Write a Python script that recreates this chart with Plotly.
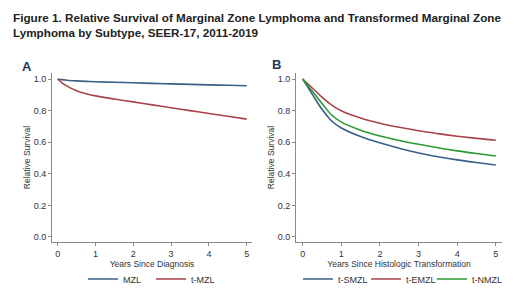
import plotly.graph_objects as go

# Panel A data
years_a = [0, 0.1, 0.25, 0.5, 0.75, 1, 1.5, 2, 2.5, 3, 3.5, 4, 4.5, 5]
mzl = [1.0, 0.996, 0.992, 0.988, 0.985, 0.983, 0.979, 0.976, 0.972, 0.969, 0.966, 0.963, 0.960, 0.957]
t_mzl = [1.0, 0.979, 0.955, 0.925, 0.906, 0.893, 0.873, 0.855, 0.836, 0.818, 0.800, 0.782, 0.764, 0.746]

# Panel B data
years_b = [0, 0.25, 0.5, 0.75, 1, 1.5, 2, 2.5, 3, 3.5, 4, 4.5, 5]
t_smzl = [1.0, 0.903, 0.808, 0.734, 0.690, 0.636, 0.596, 0.562, 0.532, 0.508, 0.488, 0.471, 0.456]
t_emzl = [1.0, 0.943, 0.885, 0.835, 0.799, 0.753, 0.720, 0.694, 0.672, 0.654, 0.638, 0.624, 0.612]
t_nmzl = [1.0, 0.923, 0.845, 0.772, 0.727, 0.676, 0.639, 0.611, 0.587, 0.565, 0.545, 0.528, 0.513]

y_ticks = [0.0, 0.2, 0.4, 0.6, 0.8, 1.0]
y_ticklabels = ["0.0", "0.2", "0.4", "0.6", "0.8", "1.0"]
x_ticks = [0, 1, 2, 3, 4, 5]

BLUE = "#3b5f88"
RED = "#a8434c"
GREEN = "#2a9a30"
FONT = "Liberation Sans, Arial, sans-serif"

W, H = 520, 298
def px_x(p): return p / W
def px_y(p): return 1 - p / H

fig = go.Figure()
series = [
    (years_a, mzl, "MZL", BLUE, "x", "y", "legend"),
    (years_a, t_mzl, "t-MZL", RED, "x", "y", "legend2"),
    (years_b, t_smzl, "t-SMZL", BLUE, "x2", "y2", "legend3"),
    (years_b, t_emzl, "t-EMZL", RED, "x2", "y2", "legend4"),
    (years_b, t_nmzl, "t-NMZL", GREEN, "x2", "y2", "legend5"),
]
for xs, ys, name, color, xa, ya, lg in series:
    fig.add_trace(go.Scatter(x=xs, y=ys, mode="lines", name=name, showlegend=True,
                             line=dict(color=color, width=1.6, shape="spline"),
                             xaxis=xa, yaxis=ya, legend=lg))

axis_common = dict(showline=True, linecolor="#8a8a8a", linewidth=1, ticks="outside", ticklen=3,
                   tickcolor="#8a8a8a", showgrid=False, zeroline=False,
                   tickfont=dict(family=FONT, size=9, color="#333333"))

def legend_at(px):
    return dict(orientation="h", x=px_x(px), xanchor="left", y=px_y(279), yanchor="middle",
                font=dict(size=9, color="#333333"), bgcolor="rgba(0,0,0,0)", itemwidth=30)

OFF = 5
fig.update_layout(
    width=W, height=H, margin=dict(l=0, r=0, t=0, b=0),
    showlegend=True,
    paper_bgcolor="white", plot_bgcolor="white",
    font=dict(family=FONT, color="#333333"),
    xaxis=dict(domain=[px_x(52), px_x(252)], range=[-0.15, 5.14], tickvals=x_ticks,
               anchor="y", title=dict(text="Years Since Diagnosis", font=dict(size=8.5), standoff=1), **axis_common),
    yaxis=dict(domain=[px_y(242), px_y(73)], range=[-0.032, 1.038], tickvals=y_ticks, ticktext=y_ticklabels,
               anchor="x", title=dict(text="Relative Survival", font=dict(size=8.5), standoff=1), **axis_common),
    xaxis2=dict(domain=[px_x(296), px_x(502)], range=[-0.173, 5.16], tickvals=x_ticks,
                anchor="y2", title=dict(text="Years Since Histologic Transformation", font=dict(size=8.5), standoff=1), **axis_common),
    yaxis2=dict(domain=[px_y(242), px_y(73)], range=[-0.032, 1.038], tickvals=y_ticks, ticktext=y_ticklabels,
                anchor="x2", title=dict(text="Relative Survival", font=dict(size=8.5), standoff=1), **axis_common),
    legend=legend_at(88 - OFF),
    legend2=legend_at(156 - OFF),
    legend3=legend_at(303 - OFF),
    legend4=legend_at(371 - OFF),
    legend5=legend_at(437 - OFF),
    annotations=[
        dict(text="<b>Figure 1. Relative Survival of Marginal Zone Lymphoma and Transformed Marginal Zone<br>Lymphoma by Subtype, SEER-17, 2011-2019</b>",
             x=px_x(11), y=px_y(9), xref="paper", yref="paper", xanchor="left", yanchor="top",
             align="left", showarrow=False, font=dict(family=FONT, size=11.7, color="#222222")),
        dict(text="<b>A</b>", x=px_x(20), y=px_y(66), xref="paper", yref="paper", xanchor="left", yanchor="middle",
             showarrow=False, font=dict(family=FONT, size=13, color="#1f3560")),
        dict(text="<b>B</b>", x=px_x(270), y=px_y(65), xref="paper", yref="paper", xanchor="left", yanchor="middle",
             showarrow=False, font=dict(family=FONT, size=13, color="#1f3560")),
    ],
)

fig.write_html("out.html", config={"displayModeBar": False},
               post_script="document.body.style.margin='0px';")
